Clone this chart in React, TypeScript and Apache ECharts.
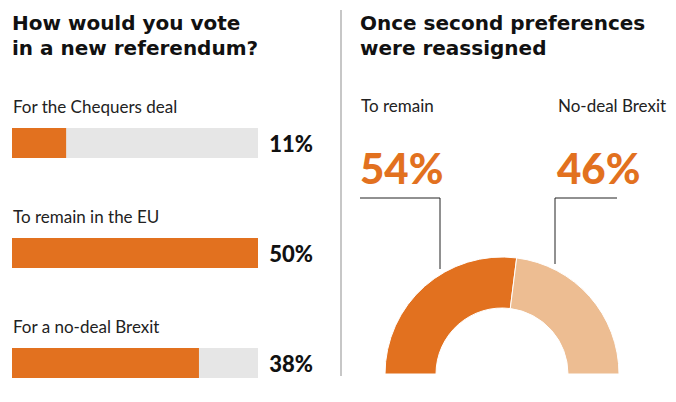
import React, { useEffect, useRef } from "react";
import * as echarts from "echarts";

const categories = ["For the Chequers deal", "To remain in the EU", "For a no-deal Brexit"];
const voteShares = [11, 50, 38];
const reassignedLabels = ["To remain", "No-deal Brexit"];
const reassignedShares = [54, 46];
const leftTitleLines = ["How would you vote", "in a new referendum?"];
const rightTitleLines = ["Once second preferences", "were reassigned"];

const ORANGE = "#e2711f";
const LIGHT = "#edbd92";
const FONT = "Lato, 'Open Sans', sans-serif";
const TITLE_FONT = "'DejaVu Sans', 'Open Sans', sans-serif";

export default function App() {
  const ref = useRef<HTMLDivElement>(null);
  useEffect(() => {
    const chart = echarts.init(ref.current!, null, { renderer: "svg" });
    const titleStyle = { fontFamily: TITLE_FONT, fontWeight: "bold", fontSize: 20, lineHeight: 24, color: "#111" };
    const titles: any[] = [];
    leftTitleLines.forEach((t, i) => titles.push({ text: t, left: 12, top: 11 + i * 24.5, padding: 0, textStyle: titleStyle }));
    rightTitleLines.forEach((t, i) => titles.push({ text: t, left: 360, top: 11 + i * 24.5, padding: 0, textStyle: titleStyle }));
    chart.setOption({
      animation: false,
      backgroundColor: "#ffffff",
      title: titles,
      grid: { left: 12, top: 143, width: 246, height: 220, containLabel: false },
      xAxis: { type: "value", min: 0, max: 50, show: false },
      yAxis: [
        {
          type: "category",
          data: categories,
          inverse: true,
          boundaryGap: false,
          position: "left",
          axisLine: { show: false },
          axisTick: { show: false },
          axisLabel: {
            inside: true,
            margin: 1,
            align: "left",
            verticalAlign: "bottom",
            padding: [0, 0, 28, 0],
            fontFamily: FONT,
            fontSize: 17,
            color: "#222",
          },
        },
        {
          type: "category",
          data: voteShares.map((v) => v + "%"),
          inverse: true,
          boundaryGap: false,
          position: "right",
          axisLine: { show: false },
          axisTick: { show: false },
          axisLabel: {
            margin: 55,
            align: "right",
            verticalAlign: "middle",
            fontFamily: FONT,
            fontWeight: 900,
            fontSize: 22,
            color: "#111",
          },
        },
      ],
      series: [
        {
          type: "bar",
          yAxisIndex: 0,
          data: voteShares,
          barWidth: 30,
          showBackground: true,
          backgroundStyle: { color: "#e6e6e6" },
          itemStyle: { color: ORANGE },
          silent: true,
        },
        {
          type: "pie",
          center: [502, 374],
          radius: [66, 117],
          startAngle: 180,
          endAngle: 0,
          clockwise: true,
          silent: true,
          label: { show: false },
          labelLine: { show: false },
          itemStyle: { borderColor: "#ffffff", borderWidth: 1 },
          data: reassignedShares.map((v, i) => ({
            name: reassignedLabels[i],
            value: v,
            itemStyle: { color: i === 0 ? ORANGE : LIGHT },
          })),
        },
      ],
      graphic: [
        {
          type: "line",
          shape: { x1: 341, y1: 10, x2: 341, y2: 376 },
          style: { stroke: "#b5b5b5", lineWidth: 1.5 },
          silent: true,
        },
        ...reassignedLabels.map((t, i) => ({
          type: "text",
          x: i === 0 ? 361 : 558,
          y: 105,
          style: { text: t, fontFamily: FONT, fontSize: 17, fill: "#222", textVerticalAlign: "middle" },
          silent: true,
        })),
        ...reassignedShares.map((v, i) => ({
          type: "text",
          x: i === 0 ? 360 : 557,
          y: 168,
          style: {
            text: v + "%",
            fontFamily: FONT,
            fontWeight: 900,
            fontSize: 42,
            fill: ORANGE,
            textVerticalAlign: "middle",
          },
          silent: true,
        })),
        {
          type: "polyline",
          shape: { points: [[360, 198], [440, 198], [440, 269]] },
          style: { stroke: "#222", lineWidth: 1, fill: null },
          silent: true,
        },
        {
          type: "polyline",
          shape: { points: [[617, 198], [555, 198], [555, 264]] },
          style: { stroke: "#222", lineWidth: 1, fill: null },
          silent: true,
        },
      ],
    });
    return () => chart.dispose();
  }, []);
  return <div ref={ref} style={{ position: "absolute", left: 0, top: 0, width: 676, height: 402 }} />;
}
